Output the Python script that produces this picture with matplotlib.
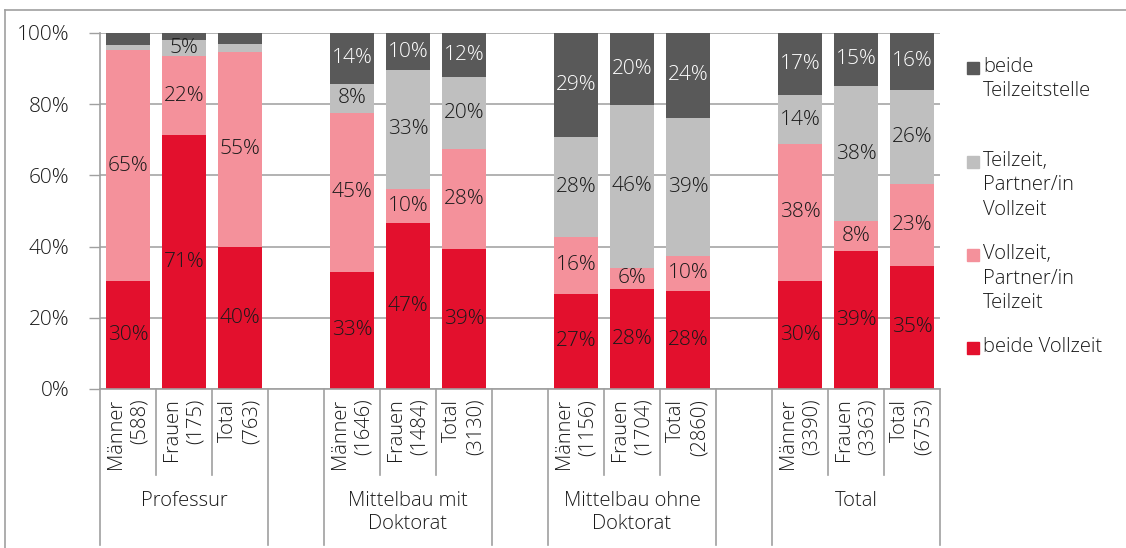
import numpy as np
import matplotlib
matplotlib.use("Agg")
import matplotlib.pyplot as plt
from matplotlib.patches import Rectangle
from matplotlib.lines import Line2D

plt.rcParams['font.family'] = ['Open Sans', 'DejaVu Sans']
plt.rcParams['font.weight'] = 300

# data (percent of couples per group)
tick_labels = ["Männer\n(588)", "Frauen\n(175)", "Total\n(763)",
               "Männer\n(1646)", "Frauen\n(1484)", "Total\n(3130)",
               "Männer\n(1156)", "Frauen\n(1704)", "Total\n(2860)",
               "Männer\n(3390)", "Frauen\n(3363)", "Total\n(6753)"]
groups = ["Professur", "Mittelbau mit\nDoktorat", "Mittelbau ohne\nDoktorat", "Total"]
series_names = ["beide Vollzeit", "Vollzeit,\nPartner/in\nTeilzeit",
                "Teilzeit,\nPartner/in\nVollzeit", "beide\nTeilzeitstelle"]
beide_vollzeit = [30.2, 71.4, 39.8, 33.0, 46.6, 39.4, 26.8, 28.1, 27.6, 30.4, 38.8, 34.6]
vollzeit_partner_teilzeit = [65.0, 22.0, 55.0, 44.6, 9.6, 28.1, 15.8, 6.0, 9.8, 38.4, 8.3, 23.1]
teilzeit_partner_vollzeit = [1.5, 4.6, 2.0, 8.1, 33.4, 20.2, 28.2, 45.8, 38.8, 13.8, 38.1, 26.3]
beide_teilzeit = [3.3, 2.0, 3.2, 14.3, 10.4, 12.3, 29.2, 20.1, 23.8, 17.4, 14.8, 16.0]

colors = ["#E3102D", "#F4919B", "#BFBFBF", "#595959"]
text_colors = ["#1a1a1a", "#1a1a1a", "#1a1a1a", "white"]

W, H = 1126, 548
fig = plt.figure(figsize=(W / 100, H / 100), dpi=100)
ax = fig.add_axes([100 / W, 1 - 389 / H, (940 - 100) / W, (389 - 33) / H])

# bar positions: 3 bars per group, one empty slot between groups
xpos = []
for g in range(4):
    for k in range(3):
        xpos.append(g * 4 + k + 0.5)
xpos = np.array(xpos)

series = [beide_vollzeit, vollzeit_partner_teilzeit, teilzeit_partner_vollzeit, beide_teilzeit]
bottom = np.zeros(len(xpos))
for vals, col, tcol in zip(series, colors, text_colors):
    vals = np.array(vals)
    ax.bar(xpos, vals, 0.8, bottom=bottom, color=col, zorder=2)
    for x, b, v in zip(xpos, bottom, vals):
        if v >= 4:
            ax.text(x, b + v / 2, f"{round(v)}%", ha="center", va="center",
                    fontsize=15, color=tcol, zorder=3)
    bottom += vals

ax.set_xlim(0, 15)
ax.set_ylim(0, 100)
ax.set_yticks(range(0, 101, 20))
ax.set_yticklabels([f"{t}%" for t in range(0, 101, 20)], fontsize=15, color="#1a1a1a")
ax.yaxis.grid(True, color="#a6a6a6", linewidth=1.2, zorder=0)
ax.set_axisbelow(True)
ax.tick_params(axis="y", length=8, width=1, color="#a0a0a0", pad=14)
ax.set_xticks(xpos)
ax.set_xticklabels(tick_labels, rotation=90, fontsize=14.5, color="#1a1a1a",
                   multialignment="right", linespacing=1.3)
ax.tick_params(axis="x", length=0, pad=7)
for s in ["top", "right"]:
    ax.spines[s].set_visible(False)
for s in ["left", "bottom"]:
    ax.spines[s].set_color("#a0a0a0")
    ax.spines[s].set_linewidth(1.2)

# category separators below the axis
trans = ax.get_xaxis_transform()
short_y = -(475 - 389) / 356
long_y = -(545 - 389) / 356
for b in range(16):
    if b % 4 == 0 or b % 4 == 3:
        y1 = long_y
    else:
        y1 = short_y
    ax.add_line(Line2D([b, b], [0, y1], transform=trans, color="#a0a0a0",
                       linewidth=1.2, clip_on=False))
for g, name in enumerate(groups):
    ax.text(g * 4 + 1.5, -(491 - 389) / 356, name, transform=trans, ha="center",
            va="top", fontsize=14.5, color="#1a1a1a", linespacing=1.2)

# legend
legend_top = [59, 153, 246, 339]
for name, col, ytop in zip(series_names[::-1], colors[::-1], legend_top):
    fig.patches.append(Rectangle((967 / W, 1 - (ytop + 15) / H), 12 / W, 12 / H,
                                 transform=fig.transFigure, color=col))
    fig.text(983 / W, 1 - (ytop - 2) / H, name, ha="left", va="top",
             fontsize=14.5, color="#1a1a1a", linespacing=1.3)

# outer frame (top and left edges)
fig.add_artist(Line2D([5 / W, 1], [1 - 10 / H, 1 - 10 / H], transform=fig.transFigure,
                      color="#a0a0a0", linewidth=1.2))
fig.add_artist(Line2D([5 / W, 5 / W], [0, 1 - 10 / H], transform=fig.transFigure,
                      color="#a0a0a0", linewidth=1.2))

fig.savefig("out.png", dpi=100)
